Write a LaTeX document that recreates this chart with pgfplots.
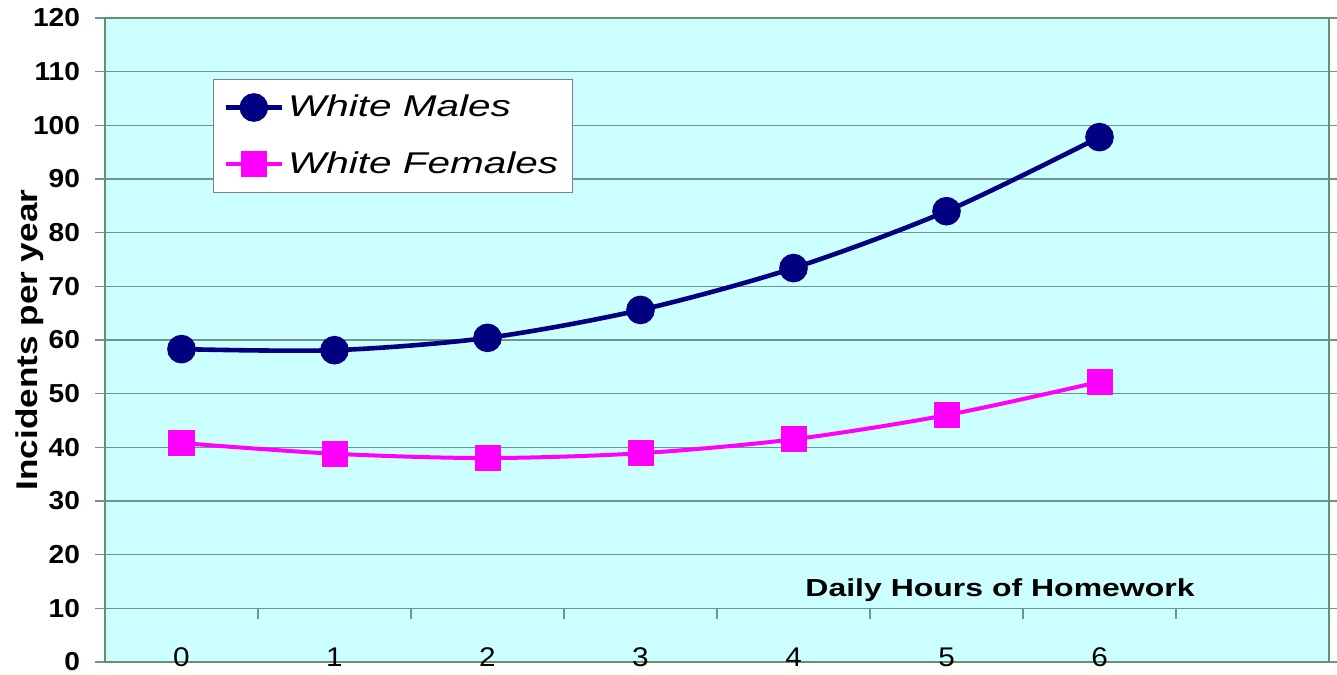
\documentclass[border=0pt]{standalone}
\usepackage{fontspec}
\setmainfont{Liberation Sans}
\newfontfamily\ytickfont[FakeStretch=1.08]{Liberation Sans}
\newfontfamily\xtickfont[FakeStretch=1.1]{Liberation Sans}
\newfontfamily\ylabfont[FakeStretch=1.17]{Liberation Sans}
\newfontfamily\xlabfont[FakeStretch=1.3]{Liberation Sans}
\newfontfamily\legfont[FakeStretch=1.35]{Liberation Sans}
\usepackage{pgfplots}
\pgfplotsset{compat=1.18}
\usetikzlibrary{calc}
\definecolor{bgcyan}{RGB}{204,255,255}
\definecolor{gridc}{RGB}{110,150,140}
\definecolor{framec}{RGB}{100,145,110}
\definecolor{navyc}{RGB}{0,0,128}
\definecolor{magc}{RGB}{255,0,255}

\begin{document}
\begin{tikzpicture}
\begin{axis}[
  name=ax,
  scale only axis,
  width=612pt, height=322pt,
  xmin=-0.5, xmax=7.5,
  ymin=0, ymax=120,
  xtick={0,...,6},
  ytick={0,10,...,120},
  /pgf/number format/assume math mode=true,
  axis background/.style={fill=bgcyan},
  axis line style={framec, line width=0.8pt},
  ymajorgrids,
  grid style={gridc, line width=0.8pt},
  xtick style={draw=none},
  ytick style={gridc, line width=0.8pt},
  tick align=outside,
  major tick length=5pt,
  yticklabel style={font=\ytickfont\bfseries\fontsize{13}{13}\selectfont, xshift=-4pt},
  xticklabel style={font=\xtickfont\fontsize{13.5}{13.5}\selectfont, anchor=base, yshift=3pt},
  every axis y label/.style={at={(rel axis cs:-0.0613,0.5)}, rotate=90, anchor=center,
    font=\ylabfont\bfseries\fontsize{15}{15}\selectfont},
  ylabel={Incidents per year},
  every axis x label/.style={at={(axis cs:5.35,13.4)}, anchor=center,
    font=\xlabfont\bfseries\fontsize{12.3}{12.3}\selectfont},
  xlabel={Daily Hours of Homework},
  legend style={at={(rel axis cs:0.0882,0.906)}, anchor=north west,
    draw=gray, fill=white, line width=0.6pt,
    font=\legfont\itshape\fontsize{15}{15}\selectfont,
    row sep=12pt, inner xsep=5pt, inner ysep=6pt},
  legend cell align=left,
  legend image code/.code={%
    \draw[mark repeat=2, mark phase=2, #1] plot coordinates {(0pt,0pt)(14pt,0pt)(28pt,0pt)};},
]

% small tick marks hanging from the 10 line
\addplot[gridc, line width=0.8pt, forget plot, unbounded coords=jump] coordinates {
  (0.5,10) (0.5,8) (0.5,nan)
  (1.5,10) (1.5,8) (1.5,nan)
  (2.5,10) (2.5,8) (2.5,nan)
  (3.5,10) (3.5,8) (3.5,nan)
  (4.5,10) (4.5,8) (4.5,nan)
  (5.5,10) (5.5,8) (5.5,nan)
  (6.5,10) (6.5,8)
};

% White Males
\addplot[navyc, line width=2.3pt, smooth, mark=*, mark size=6pt, mark options={solid, fill=navyc}] coordinates {
  (0,58.3) (1,58.1) (2,60.4) (3,65.6) (4,73.4) (5,84.0) (6,97.8)
};
\addlegendentry{White Males}

% White Females
\addplot[magc, line width=2pt, smooth, mark=square*, mark size=5.5pt, mark options={solid, fill=magc}] coordinates {
  (0,40.8) (1,38.8) (2,38.0) (3,38.9) (4,41.5) (5,46.0) (6,52.2)
};
\addlegendentry{White Females}

\end{axis}
\pgfresetboundingbox
\path ($(ax.south west)+(-52.5pt,-6pt)$) rectangle ($(ax.north east)+(4pt,9pt)$);
\end{tikzpicture}
\end{document}
